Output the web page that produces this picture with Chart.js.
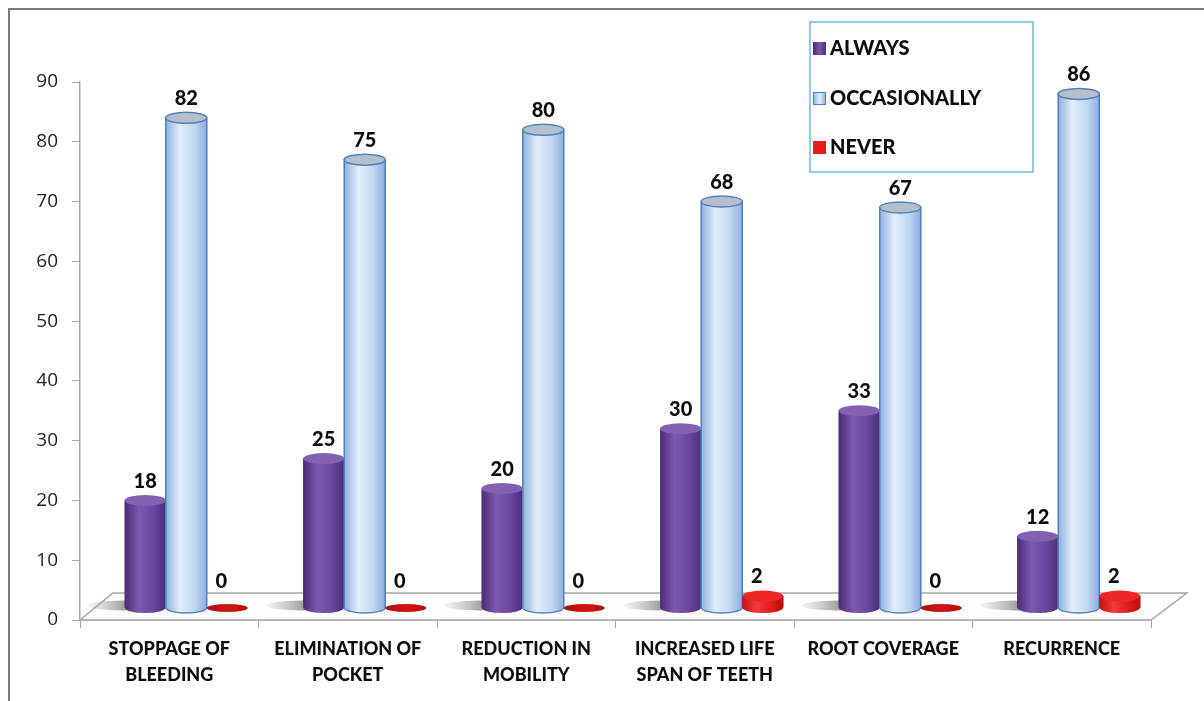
<!DOCTYPE html>
<html>
<head>
<meta charset="utf-8">
<script src="https://cdn.jsdelivr.net/npm/chart.js@4/dist/chart.umd.min.js"></script>
<style>
  body { margin: 0; background: #fff; }
  canvas { display: block; }
</style>
</head>
<body>
<canvas id="grafico" width="1204" height="701"></canvas>
<script>
const categorias = [
    ['STOPPAGE OF', 'BLEEDING'],
    ['ELIMINATION OF', 'POCKET'],
    ['REDUCTION IN', 'MOBILITY'],
    ['INCREASED LIFE', 'SPAN OF TEETH'],
    ['ROOT COVERAGE'],
    ['RECURRENCE']
];
const siempre = [18, 25, 20, 30, 33, 12];
const ocasional = [82, 75, 80, 68, 67, 86];
const nunca = [0, 0, 0, 2, 0, 2];
const nombresSeries = ['ALWAYS', 'OCCASIONALLY', 'NEVER'];
const yMin = 0, yMax = 90, yPaso = 10;

// offset of the bar row inside the 3d floor
const DX = 17, DY = -12;

// colours for each cylinder: body gradient stops, cap colour, outline
const paletas = [
    { body: ['#4a2c75', '#7d58ae', '#6a47a0', '#4b2f78'], cap: '#8360b2', stroke: null, solid: '#6a4a9a' },
    { body: ['#8fb1dd', '#e2eefb', '#c2d8f2', '#8cade0'], cap: '#b5bfcc', stroke: '#4f81bd', solid: '#c9dcf2' },
    { body: ['#c41010', '#f23a3a', '#e01c1c', '#b80e0e'], cap: '#ef2626', stroke: null, solid: '#e31b1b' }
];

function cilindro(ctx, x, top, base, w, pal) {
    const rx = w / 2, ry = 5.5;
    const l = x - rx, r = x + rx;
    if (base - top < 1) {
        // flat disc for a zero value
        const gd = ctx.createLinearGradient(l, 0, r, 0);
        gd.addColorStop(0, '#a80c0c');
        gd.addColorStop(0.5, '#d21717');
        gd.addColorStop(1, '#b50d0d');
        ctx.beginPath();
        ctx.ellipse(x, base, rx, 4, 0, 0, Math.PI * 2);
        ctx.fillStyle = gd;
        ctx.fill();
        return;
    }
    const g = ctx.createLinearGradient(l, 0, r, 0);
    g.addColorStop(0, pal.body[0]);
    g.addColorStop(0.35, pal.body[1]);
    g.addColorStop(0.7, pal.body[2]);
    g.addColorStop(1, pal.body[3]);
    ctx.beginPath();
    ctx.moveTo(l, top);
    ctx.lineTo(l, base);
    ctx.ellipse(x, base, rx, ry, 0, Math.PI, 0, true);
    ctx.lineTo(r, top);
    ctx.closePath();
    ctx.fillStyle = g;
    ctx.fill();
    if (pal.stroke) {
        ctx.strokeStyle = pal.stroke;
        ctx.lineWidth = 1.5;
        ctx.stroke();
    }
    ctx.beginPath();
    ctx.ellipse(x, top, rx, ry, 0, 0, Math.PI * 2);
    ctx.fillStyle = pal.cap;
    ctx.fill();
    if (pal.stroke) {
        ctx.strokeStyle = pal.stroke;
        ctx.lineWidth = 1.5;
        ctx.stroke();
    }
}

const cilindros = {
    id: 'cilindros',
    beforeDraw(chart) {
        const ctx = chart.ctx;
        ctx.save();
        ctx.fillStyle = '#fff';
        ctx.fillRect(0, 0, chart.width, chart.height);
        // frame
        ctx.strokeStyle = '#7a7a7a';
        ctx.lineWidth = 2;
        ctx.beginPath();
        ctx.moveTo(9, chart.height);
        ctx.lineTo(9, 9);
        ctx.lineTo(chart.width, 9);
        ctx.stroke();
        ctx.restore();
    },
    beforeDatasetsDraw(chart) {
        const ctx = chart.ctx;
        const a = chart.chartArea;
        // floor
        ctx.save();
        ctx.beginPath();
        ctx.moveTo(a.left, a.bottom);
        ctx.lineTo(a.left + 33, a.bottom - 27);
        ctx.lineTo(a.right + 36, a.bottom - 27);
        ctx.lineTo(a.right, a.bottom);
        ctx.closePath();
        ctx.fillStyle = '#fdfdfd';
        ctx.fill();
        ctx.strokeStyle = '#a6a6a6';
        ctx.lineWidth = 1.5;
        ctx.stroke();
        ctx.restore();

        ctx.save();
        ctx.translate(DX, DY);
        // soft shadows on the floor behind each group
        const meta = chart.getDatasetMeta(0);
        meta.data.forEach(el => {
            const sx = el.x - el.width * 0.55;
            const sg = ctx.createLinearGradient(sx - el.width, 0, sx + el.width * 0.4, 0);
            sg.addColorStop(0, 'rgba(150,150,150,0)');
            sg.addColorStop(1, 'rgba(80,80,80,0.8)');
            ctx.beginPath();
            ctx.ellipse(sx, el.base - 2, el.width * 0.85, 5, 0, 0, Math.PI * 2);
            ctx.fillStyle = sg;
            ctx.fill();
        });
    },
    afterDatasetsDraw(chart) {
        const ctx = chart.ctx;
        chart.data.datasets.forEach((ds, i) => {
            const meta = chart.getDatasetMeta(i);
            meta.data.forEach(el => {
                cilindro(ctx, el.x, el.y, el.base, el.width, paletas[i]);
            });
        });
        // value labels
        ctx.fillStyle = '#0d0d0d';
        ctx.font = '900 20px Lato';
        ctx.textAlign = 'center';
        ctx.textBaseline = 'bottom';
        chart.data.datasets.forEach((ds, i) => {
            const meta = chart.getDatasetMeta(i);
            meta.data.forEach((el, j) => {
                const v = ds.data[j];
                const off = (el.base - el.y < 1) ? 16 : 9;
                ctx.fillText(String(v), el.x - (i === 2 ? 6 : 0), el.y - off);
            });
        });
        ctx.restore();
    },
    afterDraw(chart) {
        const ctx = chart.ctx;
        ctx.save();
        // legend box
        ctx.fillStyle = '#fff';
        ctx.fillRect(810, 22, 223, 150);
        ctx.strokeStyle = '#6fbcd4';
        ctx.lineWidth = 1.5;
        ctx.strokeRect(810, 22, 223, 150);
        const filas = [48, 98, 147];
        ctx.font = '900 20px Lato';
        ctx.textAlign = 'left';
        ctx.textBaseline = 'middle';
        nombresSeries.forEach((nombre, i) => {
            const y = filas[i];
            const pal = paletas[i];
            const g = ctx.createLinearGradient(813, 0, 826, 0);
            g.addColorStop(0, pal.body[0]);
            g.addColorStop(0.5, pal.body[1]);
            g.addColorStop(1, pal.body[3]);
            ctx.fillStyle = i === 2 ? pal.solid : g;
            ctx.fillRect(813, y - 6, 13, 13);
            if (pal.stroke) {
                ctx.strokeStyle = pal.stroke;
                ctx.lineWidth = 1;
                ctx.strokeRect(813.5, y - 5.5, 12, 12);
            }
            ctx.fillStyle = '#0d0d0d';
            ctx.fillText(nombre, 830, y + 1);
        });
        ctx.restore();
    }
};

const series = [siempre, ocasional, nunca].map((datos, i) => ({
    label: nombresSeries[i],
    data: datos,
    backgroundColor: paletas[i].solid,
    borderWidth: 0,
    categoryPercentage: 0.69,
    barPercentage: 1,
    clip: false
}));

new Chart(document.getElementById('grafico'), {
    type: 'bar',
    data: { labels: categorias, datasets: series },
    plugins: [cilindros],
    options: {
        responsive: false,
        animation: false,
        events: [],
        layout: { padding: { top: 82, right: 53, left: 0, bottom: 0 } },
        plugins: {
            legend: { display: false },
            tooltip: { enabled: false }
        },
        scales: {
            x: {
                afterFit: (scale) => { scale.height = 81; },
                border: { color: '#a6a6a6', width: 1.5 },
                grid: { drawOnChartArea: false, tickLength: 8, color: '#a6a6a6' },
                ticks: {
                    color: '#0d0d0d',
                    font: { family: 'Lato', weight: '900', size: 18, lineHeight: 1.4 },
                    padding: 9,
                    maxRotation: 0,
                    autoSkip: false
                }
            },
            y: {
                min: yMin,
                max: yMax,
                afterFit: (scale) => { scale.width = 80; },
                border: { color: '#a6a6a6', width: 1.5 },
                grid: { drawOnChartArea: false, tickLength: 8, color: '#a6a6a6' },
                ticks: {
                    stepSize: yPaso,
                    color: '#1f1f1f',
                    font: { family: 'Open Sans', size: 19 },
                    padding: 14
                }
            }
        }
    }
});
</script>
</body>
</html>
